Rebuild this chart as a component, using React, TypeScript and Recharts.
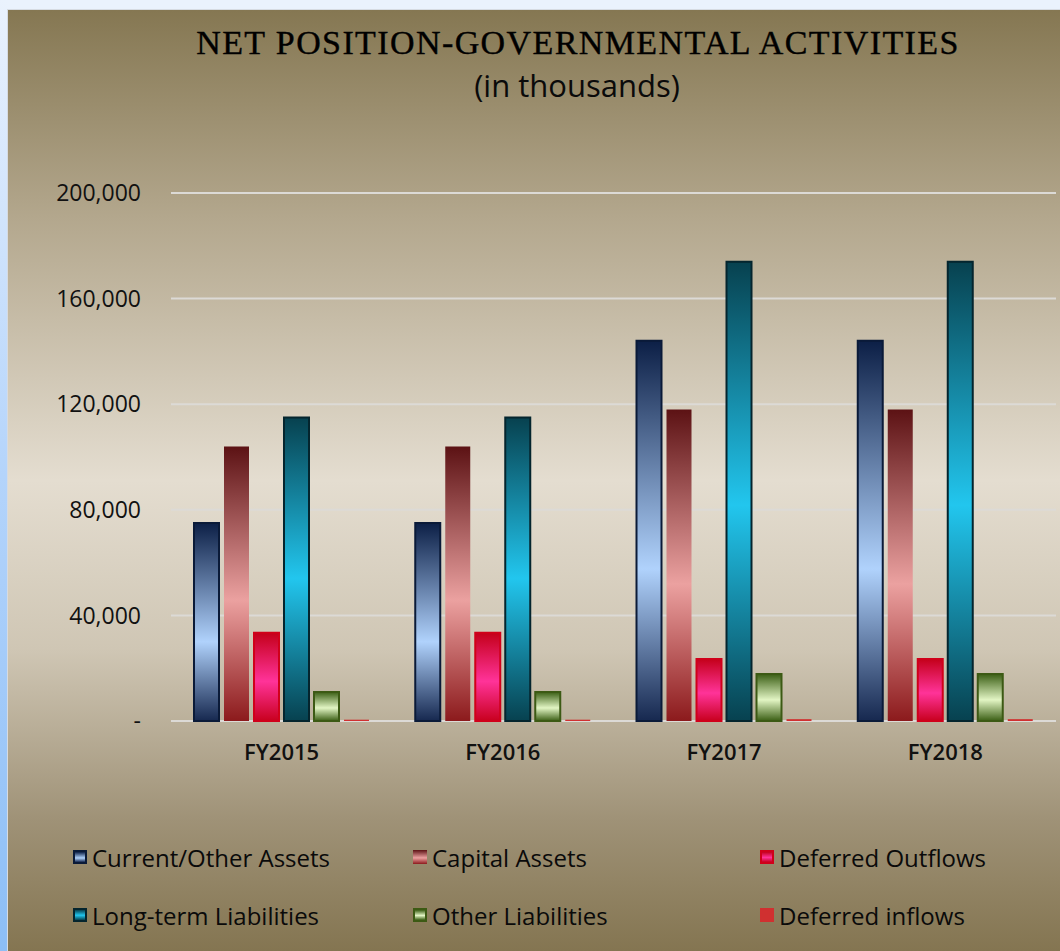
import { Bar, BarChart, CartesianGrid, XAxis, YAxis } from "recharts"

const years = ["FY2015", "FY2016", "FY2017", "FY2018"]

const currentOtherAssets = [75000, 75000, 144000, 144000]
const capitalAssets = [104000, 104000, 118000, 118000]
const deferredOutflows = [33400, 33400, 23500, 23500]
const longTermLiabilities = [115000, 115000, 174000, 174000]
const otherLiabilities = [11000, 11000, 17800, 17800]
const deferredInflows = [500, 500, 700, 700]

const yTicks = [0, 40000, 80000, 120000, 160000, 200000]

const series = [
  { key: "cur", name: "Current/Other Assets", values: currentOtherAssets, stops: ["#0c1f46", "#b0d2fc", "#16284f"], mid: "60%", stroke: "#0a1a38" },
  { key: "cap", name: "Capital Assets", values: capitalAssets, stops: ["#5c1214", "#eba1a0", "#8c1a1c"], mid: "56%", stroke: "none" },
  { key: "dout", name: "Deferred Outflows", values: deferredOutflows, stops: ["#c4001a", "#ff3399", "#c8001e"], mid: "55%", stroke: "#d0001a" },
  { key: "lt", name: "Long-term Liabilities", values: longTermLiabilities, stops: ["#07414f", "#22c6ee", "#07414f"], mid: "53%", stroke: "#04252e" },
  { key: "oth", name: "Other Liabilities", values: otherLiabilities, stops: ["#3a5e14", "#e2f5c4", "#3a5e14"], mid: "55%", stroke: "#3c5a14" },
  { key: "din", name: "Deferred inflows", values: deferredInflows, stops: ["#d03030", "#d03030", "#d03030"], mid: "50%", stroke: "none" },
]

const data = years.map((year, i) => {
  const row: Record<string, string | number> = { year }
  series.forEach((s) => {
    row[s.key] = s.values[i]
  })
  return row
})

const font = "'Open Sans', sans-serif"

export default function App() {
  return (
    <div style={{ position: "absolute", left: 0, top: 0, width: 1060, height: 951, overflow: "hidden", background: "#eaf2fd" }}>
      <div
        style={{
          position: "absolute",
          left: 0,
          top: 0,
          width: 7,
          height: 951,
          background: "linear-gradient(to bottom, #eaf2fd 0%, #b4d4fb 50%, #8cbef6 100%)",
        }}
      />
      <div
        style={{
          position: "absolute",
          left: 7,
          top: 9,
          width: 1053,
          height: 942,
          borderTop: "1px solid #d6dbe2",
          borderLeft: "1px solid #d6dbe2",
          boxSizing: "border-box",
          background: "linear-gradient(to bottom, #857752 0%, #b3a78d 22%, #e4ddd0 50%, #cfc6b4 68%, #9f9277 86%, #847551 100%)",
        }}
      />
      <div
        style={{
          position: "absolute",
          left: 578,
          top: 24,
          transform: "translateX(-50%)",
          whiteSpace: "nowrap",
          fontFamily: "'Liberation Serif', serif",
          fontSize: 34,
          letterSpacing: 1.4,
          color: "#000",
          WebkitTextStroke: "0.4px #000",
        }}
      >
        NET POSITION-GOVERNMENTAL ACTIVITIES
      </div>
      <div
        style={{
          position: "absolute",
          left: 577,
          top: 64,
          transform: "translateX(-50%)",
          whiteSpace: "nowrap",
          fontFamily: font,
          fontSize: 31,
          color: "#0a0a0a",
        }}
      >
        (in thousands)
      </div>
      <div style={{ position: "absolute", left: 0, top: 0 }}>
        <BarChart
          width={1060}
          height={951}
          data={data}
          margin={{ top: 193, right: 4, bottom: 170, left: 71 }}
          barCategoryGap={23}
          barGap={5}
        >
          <defs>
            {series.map((s) => (
              <linearGradient key={s.key} id={`g-${s.key}`} x1="0" y1="0" x2="0" y2="1">
                <stop offset="0%" stopColor={s.stops[0]} />
                <stop offset={s.mid} stopColor={s.stops[1]} />
                <stop offset="100%" stopColor={s.stops[2]} />
              </linearGradient>
            ))}
          </defs>
          <CartesianGrid vertical={false} stroke="#dcdad6" strokeWidth={2} />
          <XAxis
            dataKey="year"
            axisLine={false}
            tickLine={false}
            height={60}
            tickSize={0}
            tickMargin={23}
            tick={{ fill: "#111", fontSize: 22, fontWeight: 600, fontFamily: font }}
          />
          <YAxis
            domain={[0, 200000]}
            ticks={yTicks}
            width={100}
            axisLine={false}
            tickLine={false}
            tickSize={0}
            tickMargin={30}
            tick={{ fill: "#111", fontSize: 23, fontWeight: 500, fontFamily: font }}
            tickFormatter={(v: number) => (v === 0 ? "-" : v.toLocaleString("en-US"))}
          />
          {series.map((s) => (
            <Bar
              key={s.key}
              dataKey={s.key}
              name={s.name}
              fill={`url(#g-${s.key})`}
              stroke={s.stroke}
              strokeWidth={s.stroke === "none" ? 0 : 2}
              isAnimationActive={false}
            />
          ))}
        </BarChart>
      </div>
      {series.map((s, i) => {
        const col = i % 3
        const row = Math.floor(i / 3)
        const left = [73, 413, 760][col]
        const top = [857, 915][row]
        return (
          <div
            key={s.key}
            style={{
              position: "absolute",
              left,
              top: top - 15,
              height: 30,
              display: "flex",
              alignItems: "center",
              whiteSpace: "nowrap",
              fontFamily: font,
              fontSize: 24,
              fontWeight: 500,
              color: "#0a0a0a",
            }}
          >
            <span
              style={{
                display: "inline-block",
                width: 14,
                height: 14,
                boxSizing: "border-box",
                border: s.stroke === "none" ? "none" : `2px solid ${s.stroke}`,
                background: `linear-gradient(to bottom, ${s.stops[0]} 0%, ${s.stops[1]} ${s.mid}, ${s.stops[2]} 100%)`,
                marginRight: 5,
              }}
            />
            {s.name}
          </div>
        )
      })}
    </div>
  )
}
